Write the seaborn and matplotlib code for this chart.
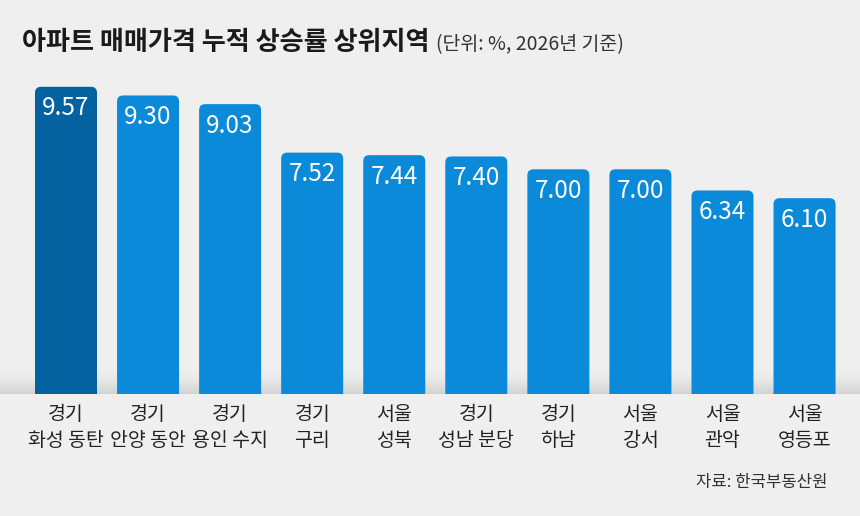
import matplotlib
matplotlib.use("Agg")
import matplotlib.pyplot as plt
from matplotlib.patches import FancyBboxPatch
import matplotlib.colors as mcolors
import numpy as np
import pandas as pd
import seaborn as sns

# ---- data ----
region_top = ["경기", "경기", "경기", "경기", "서울", "경기", "경기", "서울", "서울", "서울"]
region_bottom = ["화성 동탄", "안양 동안", "용인 수지", "구리", "성북", "성남 분당", "하남", "강서", "관악", "영등포"]
values = [9.57, 9.30, 9.03, 7.52, 7.44, 7.40, 7.00, 7.00, 6.34, 6.10]
title = "아파트 매매가격 누적 상승률 상위지역"
subtitle = "(단위: %, 2026년 기준)"
source = "자료: 한국부동산원"

# ---- style ----
BG = "#efefef"
DARK = "#03629f"
LIGHT = "#0a8ad8"
sns.set_theme(style="white")
plt.rcParams["font.family"] = ["Noto Sans CJK KR", "DejaVu Sans"]

W, H = 860, 516
PX_X = 82.06      # pixels per category
PX_Y = 32.1       # pixels per value unit
BASE = 394        # baseline y (px from top)
TOPAX = 60

df = pd.DataFrame({"region": [f"{a}\n{b}" for a, b in zip(region_top, region_bottom)],
                   "value": values})

fig = plt.figure(figsize=(W / 100, H / 100), dpi=100, facecolor=BG)
ax = fig.add_axes([0, (H - BASE) / H, 1, (BASE - TOPAX) / H])
ax.patch.set_visible(False)

palette = [DARK] + [LIGHT] * (len(values) - 1)
sns.barplot(data=df, x="region", y="value", hue="region", palette=palette,
            width=62 / PX_X, legend=False, ax=ax, saturation=1)

xl = (-66 / PX_X, (W - 66) / PX_X)
yl = (0, (BASE - TOPAX) / PX_Y)

# bottom shadow gradient in gaps
n = 50
top_c = np.array(mcolors.to_rgb(BG))
bot_c = np.array(mcolors.to_rgb("#d2d2d2"))
t = np.linspace(0, 1, n) ** 1.5
grad = (top_c[None, :] * (1 - t[:, None]) + bot_c[None, :] * t[:, None])[:, None, :]
ax.imshow(grad, extent=(xl[0], xl[1], 0, 24 / PX_Y), aspect="auto", zorder=0.5,
          origin="upper", interpolation="bilinear")

# rounded-top bars
r = 6 / PX_X
for p in list(ax.patches):
    x, w, h = p.get_x(), p.get_width(), p.get_height()
    fc = p.get_facecolor()
    p.set_visible(False)
    fb = FancyBboxPatch((x, -1), w, h + 1,
                        boxstyle=f"round,pad=0,rounding_size={r}",
                        mutation_aspect=PX_X / PX_Y, fc=fc, ec="none", zorder=2)
    ax.add_patch(fb)

ax.set_xlim(*xl)
ax.set_ylim(*yl)

pt = 0.72  # points per pixel at 100 dpi
for i, v in enumerate(values):
    ax.annotate(f"{v:.2f}", xy=(i, v), xytext=(0, -28.5 * pt), textcoords="offset points",
                ha="center", va="baseline", color="white", fontsize=17.5, zorder=3)
    ax.annotate(region_top[i], xy=(i, 0), xytext=(0, -21 * pt), textcoords="offset points",
                ha="center", va="center", color="#222222", fontsize=14, annotation_clip=False)
    ax.annotate(region_bottom[i], xy=(i, 0), xytext=(0, -47 * pt), textcoords="offset points",
                ha="center", va="center", color="#222222", fontsize=14, annotation_clip=False)

ax.set_xticks([])
ax.set_yticks([])
ax.set_xlabel("")
ax.set_ylabel("")
for s in ax.spines.values():
    s.set_visible(False)

tt = fig.text(22 / W, 1 - 42 / H, title, ha="left", va="center", fontsize=18.8,
              fontweight="bold", color="#1a1a1a")
fig.canvas.draw()
bb = tt.get_window_extent()
fig.text((bb.x1 + 6) / W, 1 - 45 / H, subtitle, ha="left", va="center", fontsize=14,
         color="#333333")
fig.text(828 / W, 1 - 483 / H, source, ha="right", va="center", fontsize=12, color="#333333")

fig.savefig("out.png", dpi=100, facecolor=BG)
